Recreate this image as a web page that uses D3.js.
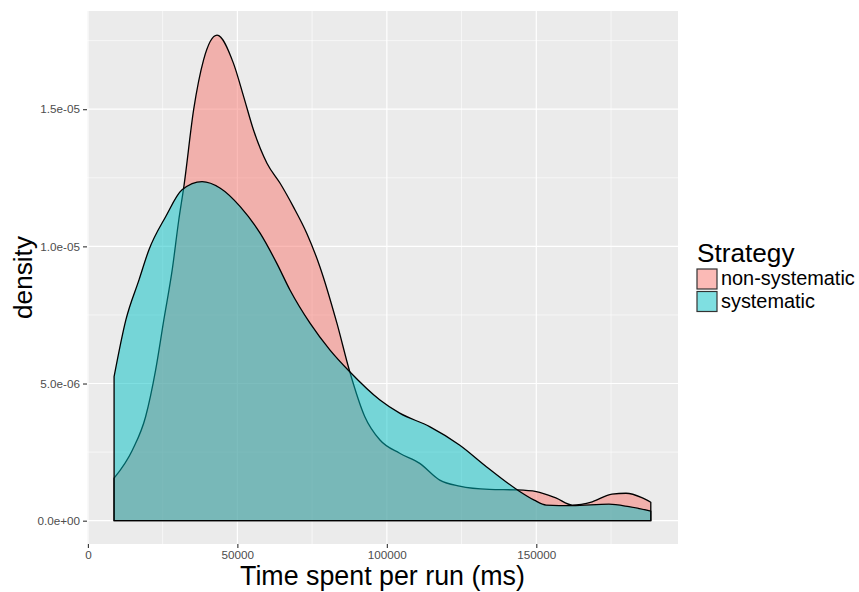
<!DOCTYPE html>
<html>
<head>
<meta charset="utf-8">
<script src="https://cdn.jsdelivr.net/npm/d3@7"></script>
<style>
  body { margin: 0; background: #fff; }
  text { font-family: "Liberation Sans", Arial, sans-serif; }
</style>
</head>
<body>
<div id="display"></div>
<script>
// density curves (x in ms, y in 1e-6)
var nonSysX = [8760, 14900, 19300, 22650, 25400, 28200, 30400, 32100, 35400, 38700, 43200, 48700, 52100, 55400, 59900, 64300, 68700, 73200, 77600, 83300, 87600, 92600, 97700, 104300, 111000, 117700, 124300, 134300, 143700, 150000, 156700, 162000, 168700, 175300, 180000, 185300, 188300];
var nonSysY = [1.55, 2.58, 3.79, 5.49, 7.32, 9.14, 10.96, 12.18, 15.0, 16.8, 17.7, 16.67, 15.46, 14.24, 13.03, 12.3, 11.45, 10.48, 9.26, 7.2, 5.43, 3.8, 2.94, 2.46, 2.09, 1.48, 1.26, 1.14, 1.12, 1.06, 0.82, 0.57, 0.69, 0.97, 1.0, 0.84, 0.67];

var sysX = [8760, 12700, 17100, 20400, 26000, 31500, 38200, 44300, 50950, 57600, 63200, 67600, 74300, 81000, 87600, 97700, 104300, 114300, 124300, 133300, 143700, 149300, 153300, 162000, 174300, 181000, 188300];
var sysY = [5.25, 7.32, 8.78, 9.87, 11.08, 12.06, 12.36, 12.12, 11.45, 10.48, 9.38, 8.41, 7.2, 6.22, 5.43, 4.4, 3.92, 3.43, 2.76, 1.97, 1.12, 0.75, 0.57, 0.55, 0.60, 0.51, 0.35];

var series = ["non-systematic", "systematic"];
var colors = ["#F8766D", "#00BFC4"];

var xTicks = [0, 50000, 100000, 150000];
var xMinor = [25000, 75000, 125000, 175000];
var yTicks = [0, 5e-6, 1e-5, 1.5e-5];
var yTickLabels = ["0.0e+00", "5.0e-06", "1.0e-05", "1.5e-05"];
var yMinor = [2.5e-6, 7.5e-6, 1.25e-5, 1.75e-5];

var margin = {top: 11, right: 181, bottom: 48, left: 87},
    width = 859 - margin.left - margin.right,
    height = 592 - margin.top - margin.bottom;

var svg = d3.select("#display").append("svg")
    .attr("width", 859).attr("height", 592);
var g = svg.append("g")
    .attr("transform", "translate(" + margin.left + "," + margin.top + ")");

var x = d3.scaleLinear().domain([-300, 197400]).range([0, width]);
var y = d3.scaleLinear().domain([-0.85e-6, 18.58e-6]).range([height, 0]);

// panel
g.append("rect").attr("width", width).attr("height", height).attr("fill", "#EBEBEB");

g.selectAll(".xminor").data(xMinor).enter().append("line")
  .attr("x1", d => x(d)).attr("x2", d => x(d)).attr("y1", 0).attr("y2", height)
  .attr("stroke", "#fff").attr("stroke-width", 0.6);
g.selectAll(".yminor").data(yMinor).enter().append("line")
  .attr("y1", d => y(d)).attr("y2", d => y(d)).attr("x1", 0).attr("x2", width)
  .attr("stroke", "#fff").attr("stroke-width", 0.6);
g.selectAll(".xmajor").data(xTicks).enter().append("line")
  .attr("x1", d => x(d)).attr("x2", d => x(d)).attr("y1", 0).attr("y2", height)
  .attr("stroke", "#fff").attr("stroke-width", 1.2);
g.selectAll(".ymajor").data(yTicks).enter().append("line")
  .attr("y1", d => y(d)).attr("y2", d => y(d)).attr("x1", 0).attr("x2", width)
  .attr("stroke", "#fff").attr("stroke-width", 1.2);

// density areas, outlined all round like ggplot
function densityPath(xs, ys) {
  var pts = xs.map((v, i) => [x(v), y(ys[i] * 1e-6)]);
  var line = d3.line().curve(d3.curveMonotoneX);
  var top = line(pts);
  var last = pts[pts.length - 1], first = pts[0];
  return top + "L" + last[0] + "," + y(0) + "L" + first[0] + "," + y(0) + "Z";
}

var data = [[nonSysX, nonSysY], [sysX, sysY]];
data.forEach(function(d, i) {
  g.append("path")
    .attr("d", densityPath(d[0], d[1]))
    .attr("fill", colors[i]).attr("fill-opacity", 0.5)
    .attr("stroke", "#000").attr("stroke-width", 1.3)
    .attr("stroke-linejoin", "round");
});

// axes
var xAxis = g.append("g").attr("transform", "translate(0," + height + ")")
  .call(d3.axisBottom(x).tickValues(xTicks).tickSize(4).tickPadding(3).tickFormat(d3.format("d")));
var yAxis = g.append("g")
  .call(d3.axisLeft(y).tickValues(yTicks).tickSize(4).tickPadding(3).tickFormat((d, i) => yTickLabels[i]));
[xAxis, yAxis].forEach(function(a) {
  a.select(".domain").remove();
  a.selectAll(".tick line").attr("stroke", "#333").attr("stroke-width", 1.1);
  a.selectAll(".tick text").attr("fill", "#4D4D4D").style("font-size", "11.7px")
    .style("font-family", "'Liberation Sans', Arial, sans-serif");
});

// axis titles
svg.append("text").attr("x", margin.left + width / 2).attr("y", 585)
  .attr("text-anchor", "middle").style("font-size", "26.8px").attr("fill", "#000")
  .text("Time spent per run (ms)");
svg.append("text").attr("transform", "translate(32," + (margin.top + height / 2) + ") rotate(-90)")
  .attr("text-anchor", "middle").style("font-size", "26.2px").attr("fill", "#000")
  .text("density");

// legend
var lg = svg.append("g").attr("transform", "translate(696,0)");
lg.append("text").attr("x", 1).attr("y", 262).style("font-size", "26.2px").text("Strategy");
series.forEach(function(s, i) {
  var yy = 268 + i * 22.5;
  lg.append("rect").attr("x", 0).attr("y", yy).attr("width", 22).attr("height", 22).attr("fill", "#fff");
  lg.append("rect").attr("x", 1).attr("y", yy + 1).attr("width", 20).attr("height", 20)
    .attr("fill", colors[i]).attr("fill-opacity", 0.5)
    .attr("stroke", "#333").attr("stroke-width", 1.2);
  lg.append("text").attr("x", 25).attr("y", yy + 17).style("font-size", "19.9px").text(s);
});
</script>
</body>
</html>
